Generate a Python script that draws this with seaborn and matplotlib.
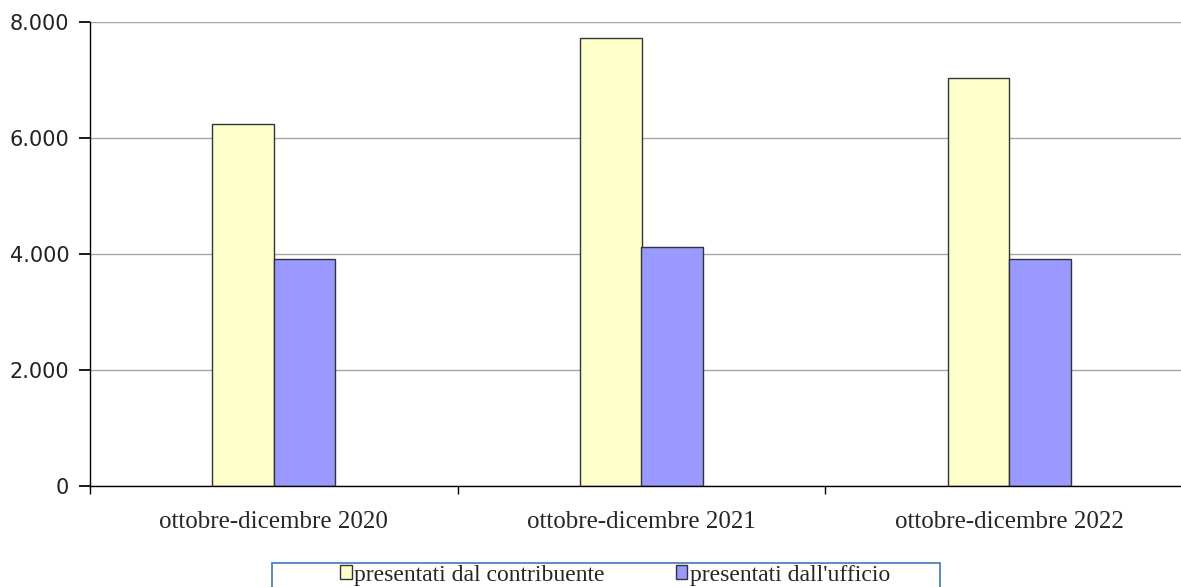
import pandas as pd
import seaborn as sns
import matplotlib.pyplot as plt
from matplotlib.patches import Rectangle
from matplotlib.ticker import FuncFormatter, FixedLocator

periods = ['ottobre-dicembre 2020', 'ottobre-dicembre 2021', 'ottobre-dicembre 2022']
series = ['presentati dal contribuente', "presentati dall'ufficio"]
contribuente = [6240, 7720, 7040]
ufficio = [3920, 4115, 3915]

df = pd.DataFrame({
    'periodo': periods * 2,
    'serie': [series[0]] * 3 + [series[1]] * 3,
    'valore': contribuente + ufficio,
})

W, H = 1181, 587
sns.set_theme(style='white')
fig = plt.figure(figsize=(W / 100, H / 100), dpi=100)
# axes extends slightly beyond the right edge, like the original crop
ax = fig.add_axes([90 / W, 1 - 486 / H, 1103 / W, 464 / H])

sns.barplot(data=df, x='periodo', y='valore', hue='serie', ax=ax,
            palette=['#FFFFCC', '#9999FF'], width=0.334, gap=0,
            edgecolor='#333333', linewidth=1.0, saturation=1)

ax.set_xlim(-0.5, 2.5)
ax.set_ylim(0, 8000)
ax.set_yticks([0, 2000, 4000, 6000, 8000])
ax.yaxis.set_major_formatter(FuncFormatter(lambda v, p: f'{int(v):,}'.replace(',', '.')))
ax.yaxis.grid(True, color='#a6a6a6', linewidth=1)
ax.set_axisbelow(True)
ax.set_xlabel('')
ax.set_ylabel('')

for s in ['top', 'right']:
    ax.spines[s].set_visible(False)
for s in ['left', 'bottom']:
    ax.spines[s].set_color('black')
    ax.spines[s].set_linewidth(1)

ax.tick_params(axis='y', which='major', left=True, length=8, color='black',
               labelsize=15, pad=7)
ax.tick_params(axis='x', which='major', length=0, pad=18)
ax.xaxis.set_minor_locator(FixedLocator([-0.5, 0.5, 1.5, 2.5]))
ax.tick_params(axis='x', which='minor', bottom=True, length=6, color='black')
for lab in ax.get_xticklabels():
    lab.set_fontfamily('Liberation Serif')
    lab.set_fontsize(18)
for lab in ax.get_yticklabels():
    lab.set_fontfamily('DejaVu Sans')
    lab.set_color('#222222')

handles, labels = ax.get_legend_handles_labels()
ax.get_legend().remove()
leg = fig.legend(handles, labels, loc='center',
                 bbox_to_anchor=(615 / W, 1 - 575 / H), ncol=2,
                 frameon=False, borderpad=0,
                 handlelength=0.5, handleheight=0.55, handletextpad=0.1,
                 columnspacing=3.0, borderaxespad=0,
                 prop={'family': 'Liberation Serif', 'size': 17})

# legend frame, cut off by the bottom edge as in the source image
fig.patches.append(Rectangle((272 / W, -0.05), (940 - 272) / W, 0.05 + 24 / H,
                             transform=fig.transFigure, fill=False,
                             edgecolor='#4f81bd', linewidth=1.3))

fig.savefig('out.png', dpi=100)
